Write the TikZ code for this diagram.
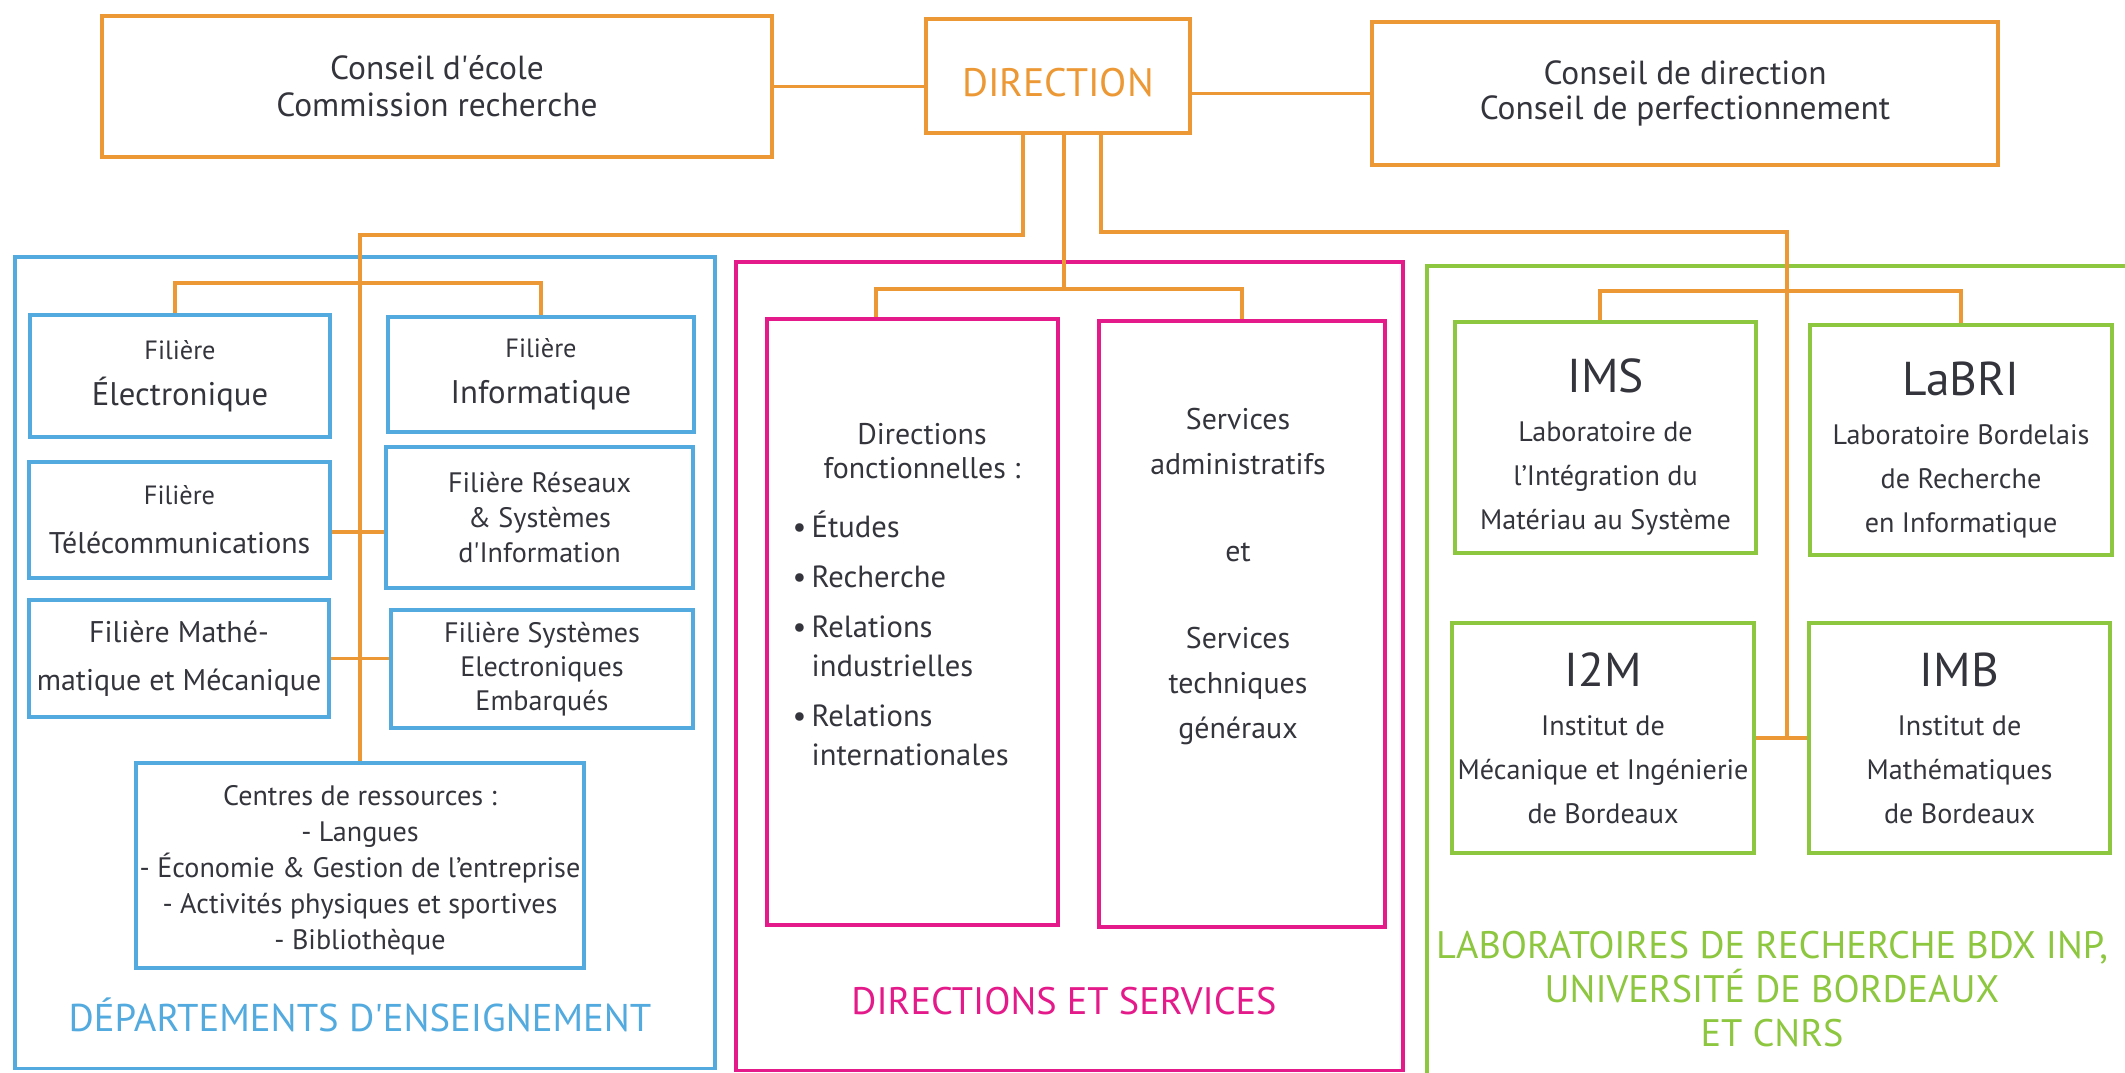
\documentclass[tikz,border=0pt]{standalone}
\usepackage{fontspec}
\setmainfont{PT Sans}

\definecolor{orgline}{RGB}{236,152,52}
\definecolor{bluebox}{RGB}{82,170,222}
\definecolor{pinkbox}{RGB}{228,26,138}
\definecolor{greenbox}{RGB}{141,198,63}
\definecolor{txtgray}{RGB}{52,52,60}

\begin{document}
\begin{tikzpicture}[x=0.01cm, y=-0.01cm,
		link/.style={draw=orgline, line width=1.1pt},
		obox/.style={draw=orgline, line width=1pt, text=txtgray, align=center, inner sep=0pt},
		bbox/.style={obox, draw=bluebox},
		pbox/.style={obox, draw=pinkbox},
		gbox/.style={obox, draw=greenbox},
		title/.style={font=\fontsize{10.9}{12.4}\selectfont, align=center},
		plain/.style={text=txtgray, align=center, inner sep=0pt}
	]
	\clip (0,0) rectangle (2125,1072);
	% top row
	\node[obox, minimum width=6.70cm, minimum height=1.41cm, font=\fontsize{9.5}{10.5}\selectfont] (ecole) at (437, 86.5) {Conseil d\textquotesingle école\\Commission recherche};
	\node[obox, minimum width=2.64cm, minimum height=1.14cm, text=orgline, font=\fontsize{11.3}{13}\selectfont] (direction) at (1058, 76) {\raisebox{-2pt}[\height][\depth]{DIRECTION}};
	\node[obox, minimum width=6.26cm, minimum height=1.43cm, font=\fontsize{9.5}{10}\selectfont] (cdir) at (1685, 93.5) {Conseil de direction\\Conseil de perfectionnement};
	\draw[link] (ecole.east) -- (ecole.east -| direction.west);
	\draw[link] (direction.east |- cdir.west) -- (cdir.west);

	% outer boxes
	\node[bbox, minimum width=7.00cm, minimum height=8.11cm] (dept) at (365, 662.5) {};
	\node[pbox, minimum width=6.67cm, minimum height=8.08cm] (dserv) at (1069.5, 666) {};
	\node[gbox, minimum width=7.20cm, minimum height=8.30cm] (labos) at (1787, 681) {};
	\node[title, text=bluebox, font=\fontsize{11}{12.4}\selectfont] (depttitle) at (360, 1015) {DÉPARTEMENTS D\textquotesingle ENSEIGNEMENT};
	\node[title, text=pinkbox] (dservtitle) at (1064, 1001) {DIRECTIONS ET SERVICES};
	\node[title, text=greenbox] (labostitle) at (1772, 989) {LABORATOIRES DE RECHERCHE BDX INP,\\UNIVERSITÉ DE BORDEAUX\\ET CNRS};

	% departements
	\node[bbox, minimum width=3.00cm, minimum height=1.22cm, font=\fontsize{9.3}{13}\selectfont] (elec) at (180, 376) {{\fontsize{7.5}{9}\selectfont Filière}\\Électronique};
	\node[bbox, minimum width=3.06cm, minimum height=1.15cm, font=\fontsize{9.3}{13}\selectfont] (info) at (541, 374.5) {{\fontsize{7.5}{9}\selectfont Filière}\\Informatique};
	\node[bbox, minimum width=3.01cm, minimum height=1.16cm, font=\fontsize{8.5}{14}\selectfont] (telecom) at (179.5, 520) {{\fontsize{7.5}{9}\selectfont Filière}\\Télécommunications};
	\node[bbox, minimum width=3.07cm, minimum height=1.41cm, font=\fontsize{8}{10}\selectfont] (reseaux) at (539.5, 517.5) {Filière Réseaux\\\& Systèmes\\d\textquotesingle Information};
	\node[bbox, minimum width=3.00cm, minimum height=1.17cm, font=\fontsize{8.5}{13.5}\selectfont] (math) at (179, 658.5) {Filière Mathé-\\matique et Mécanique};
	\node[bbox, minimum width=3.02cm, minimum height=1.18cm, font=\fontsize{8}{9.7}\selectfont] (see) at (542, 669) {Filière Systèmes\\Electroniques\\Embarqués};
	\node[bbox, minimum width=4.48cm, minimum height=2.05cm, font=\fontsize{8}{10.2}\selectfont] (centres) at (360, 865.5) {\rule{0pt}{8.5pt}Centres de ressources :\\- Langues\\- Économie \& Gestion de l'entreprise\\- Activités physiques et sportives\\- Bibliothèque};
	\coordinate (deptjoin) at (360, 235);
	\coordinate (deptbus) at (360, 283);
	\draw[link] ([xshift=-0.35cm]direction.south) |- (deptjoin) -- (centres.north);
	\draw[link] ([xshift=-0.05cm]elec.north) |- (deptbus) -| (info.north);
	\draw[link] ([yshift=-0.12cm]telecom.east) -- ([yshift=-0.12cm]telecom.east -| reseaux.west);
	\draw[link] (math.east) -- (math.east -| see.west);

	% directions et services
	\node[pbox, minimum width=2.91cm, minimum height=6.06cm] (dirf) at (912.5, 622) {};
	\node[pbox, minimum width=2.86cm, minimum height=6.06cm] (svc) at (1242, 624) {};
	\node[plain, font=\fontsize{8.5}{9.7}\selectfont] (dirfhead) at (922, 451) {Directions\\fonctionnelles :};
	\node[plain, align=left, anchor=north west, font=\fontsize{8.7}{11.2}\selectfont] (dirflist) at (792, 510) {\textbullet\,Études\\[3pt]\textbullet\,Recherche\\[3pt]\textbullet\,Relations\\\hphantom{\textbullet\,}industrielles\\[3pt]\textbullet\,Relations\\\hphantom{\textbullet\,}internationales};
	\node[plain, font=\fontsize{8.5}{12.8}\selectfont] (svctext) at (1238, 576.5) {Services\\administratifs\\[12pt]et\\[12pt]Services\\techniques\\généraux};
	\coordinate (servbus) at (1064, 289);
	\draw[link] ([xshift=0.06cm]direction.south) -- (servbus);
	\draw[link] ([xshift=-0.365cm]dirf.north) |- (servbus) -| (svc.north);

	% laboratoires
	\node[gbox, minimum width=3.01cm, minimum height=2.31cm, font=\fontsize{8}{12.5}\selectfont] (ims) at (1605.5, 437.5) {{\fontsize{13.5}{15}\selectfont\rule{0pt}{15pt}IMS}\\[1.5pt]Laboratoire de\\l'Intégration du\\Matériau au Système};
	\node[gbox, minimum width=3.02cm, minimum height=2.30cm, font=\fontsize{8}{12.5}\selectfont] (labri) at (1961, 440) {{\fontsize{13.5}{15}\selectfont\rule{0pt}{15pt}LaBRI}\\[1.5pt]Laboratoire Bordelais\\de Recherche\\en Informatique};
	\node[gbox, minimum width=3.02cm, minimum height=2.30cm, font=\fontsize{8}{12.5}\selectfont] (i2m) at (1603, 738) {{\fontsize{13.5}{15}\selectfont I2M}\\[1.5pt]Institut de\\Mécanique et Ingénierie\\de Bordeaux};
	\node[gbox, minimum width=3.01cm, minimum height=2.30cm, font=\fontsize{8}{12.5}\selectfont] (imb) at (1959.5, 738) {{\fontsize{13.5}{15}\selectfont IMB}\\[1.5pt]Institut de\\Mathématiques\\de Bordeaux};
	\coordinate (labojoin) at (1787, 232);
	\coordinate (labobus) at (1787, 291);
	\draw[link] ([xshift=0.43cm]direction.south) |- (labojoin) -- (labojoin |- i2m.east);
	\draw[link] ([xshift=-0.055cm]ims.north) |- (labobus) -| (labri.north);
	\draw[link] (i2m.east) -- (imb.west);
\end{tikzpicture}
\end{document}
